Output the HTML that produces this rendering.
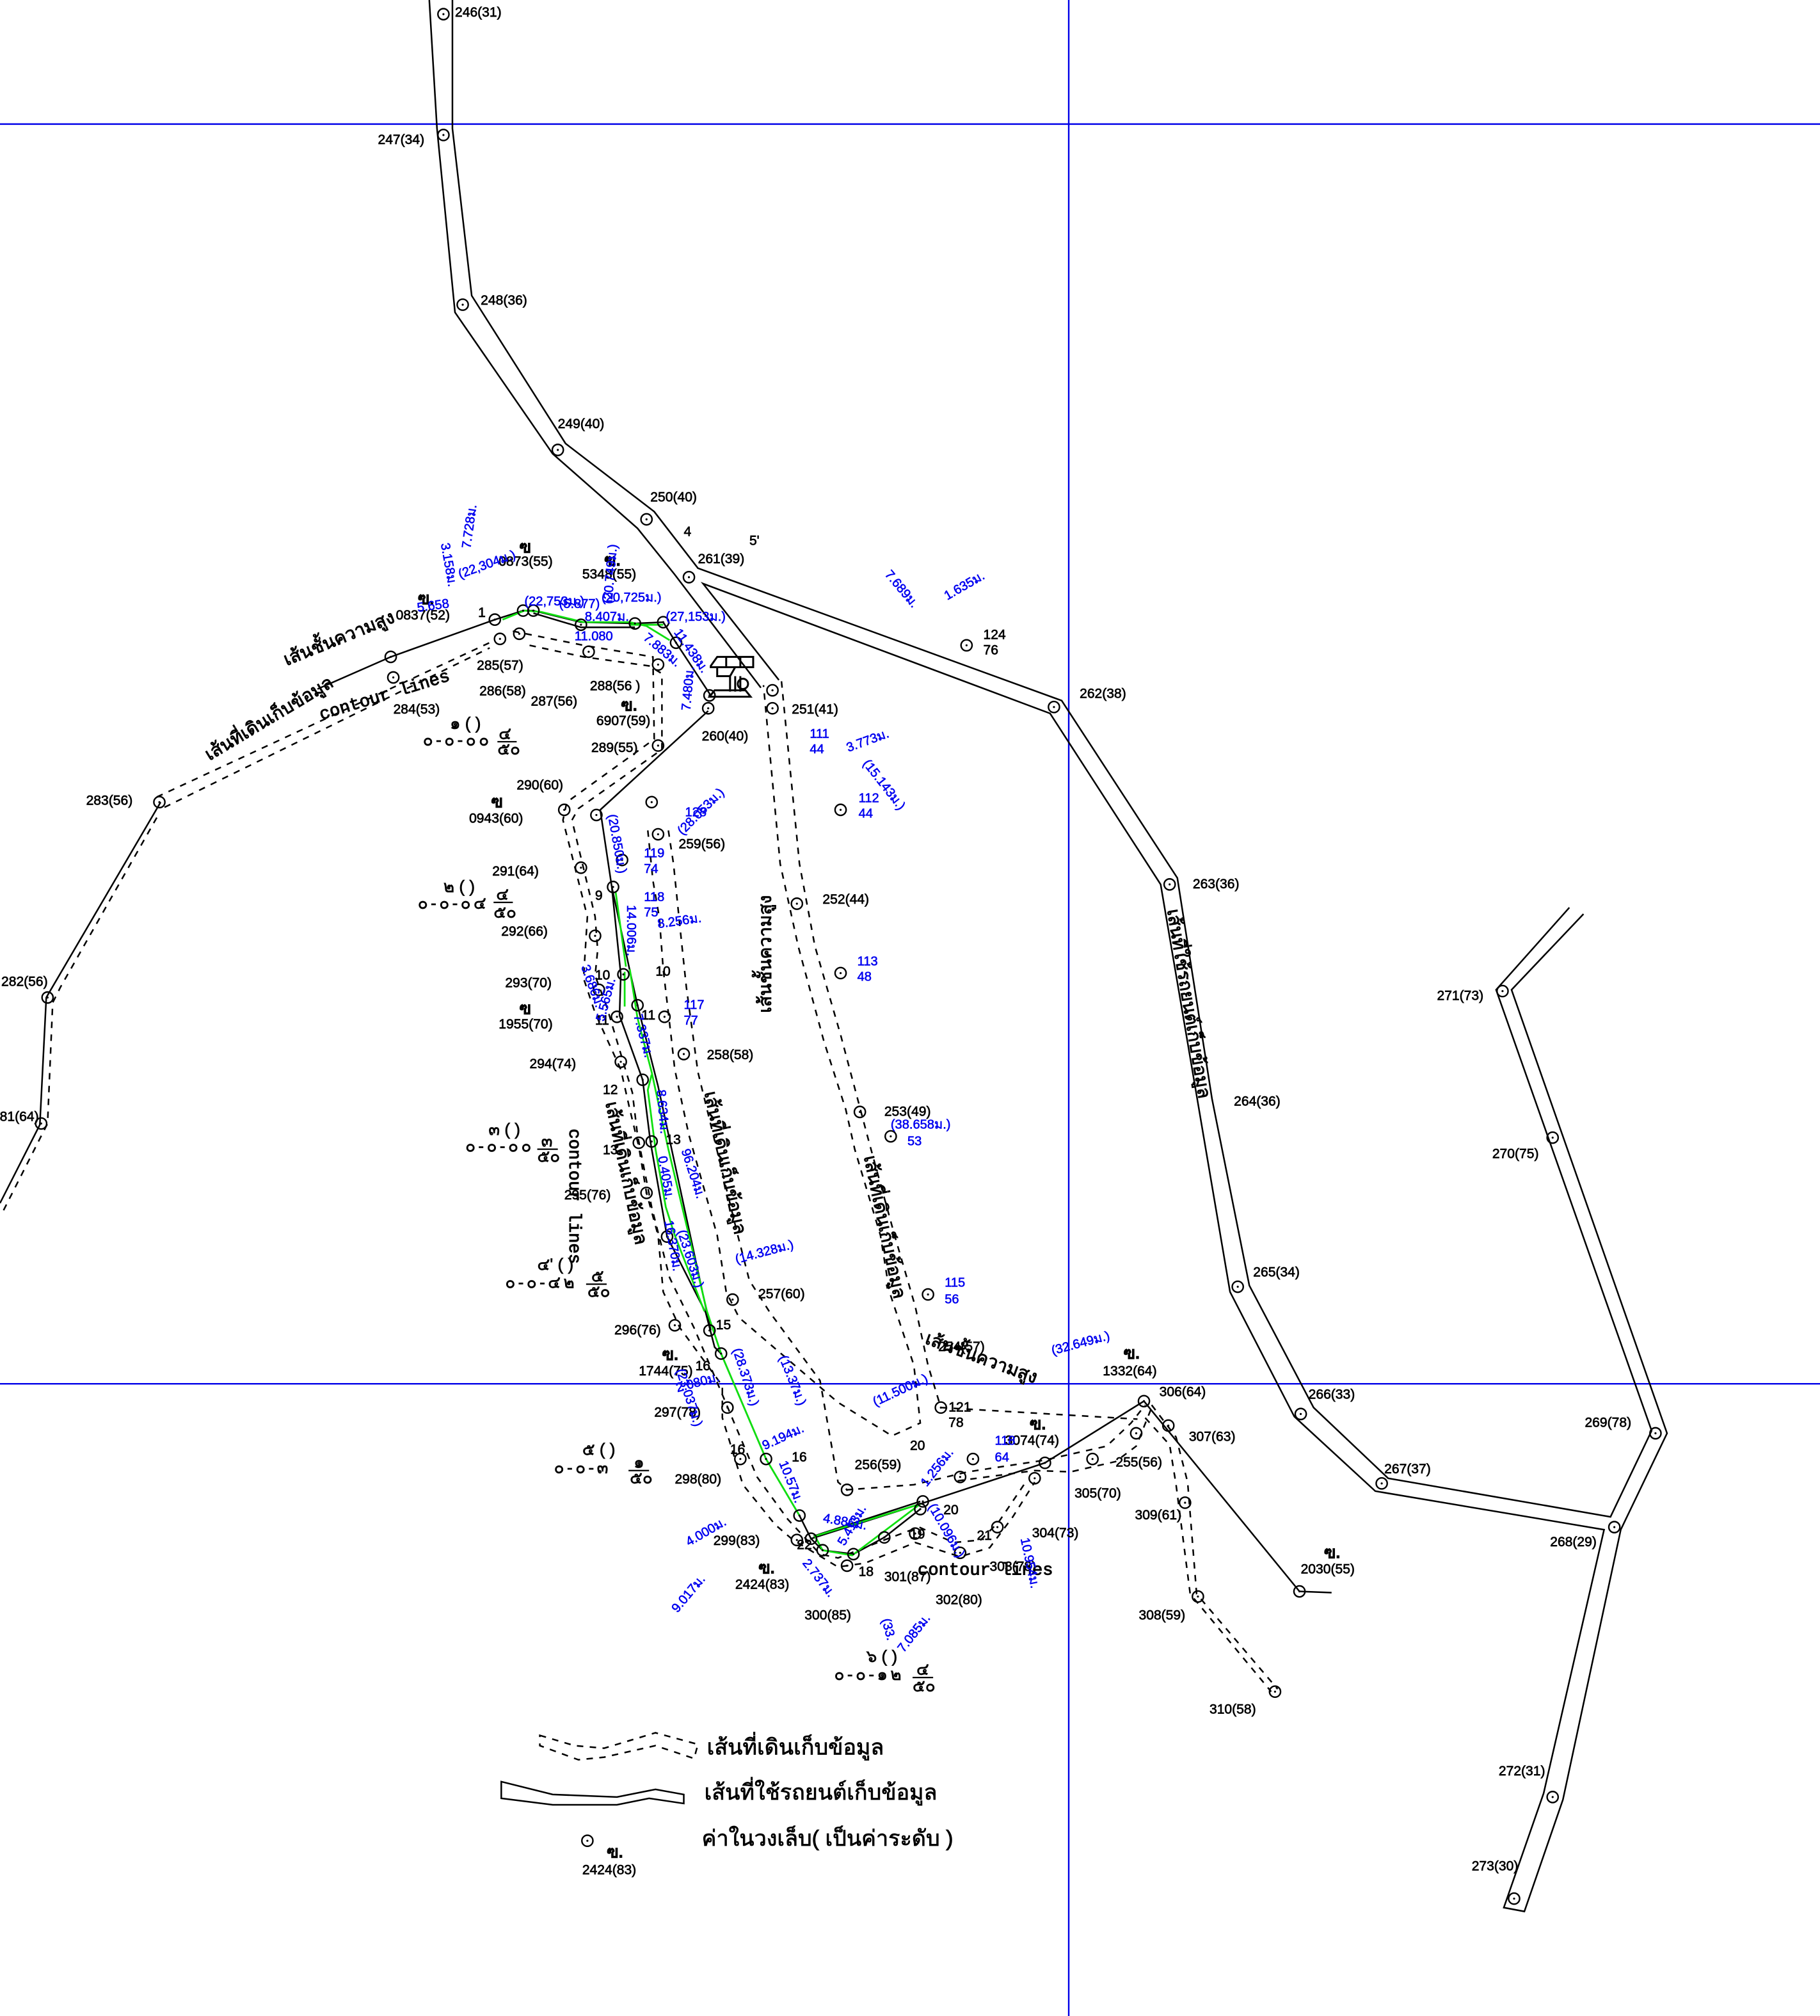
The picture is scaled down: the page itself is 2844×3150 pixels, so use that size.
<!DOCTYPE html>
<html lang="th"><head><meta charset="utf-8"><title>Map</title>
<style>
html,body{margin:0;padding:0;background:#fff}
svg{display:block}
text{font-family:"Liberation Sans","DejaVu Sans","Noto Sans CJK SC",sans-serif}
.k{fill:none;stroke:#000;stroke-width:1.25}
.d{fill:none;stroke:#000;stroke-width:1.25;stroke-dasharray:5 5}
.g{fill:none;stroke:#10e010;stroke-width:1.4}
.t{font-size:10.5px;fill:#000;stroke:#000;stroke-width:.35}
.b{font-size:10px;fill:#0000f0;stroke:#0000f0;stroke-width:.3}
.th{font-size:14px;fill:#000;stroke:#000;stroke-width:.5}
.c{font-size:13.5px;fill:#000;stroke:#000;stroke-width:.5}
.c text{font-family:"Liberation Mono",monospace}
.f{font-size:13px;fill:#000;stroke:#000;stroke-width:.35}
.w{letter-spacing:2.2px}
</style></head><body>
<svg xmlns="http://www.w3.org/2000/svg" width="2844" height="3150" viewBox="0 0 1416 1568.3">
<defs><g id="n"><circle r="4.3" fill="#fff" fill-opacity="0" stroke="#000" stroke-width="1.2"/><circle r=".8" fill="#000"/></g></defs>
<rect width="1416" height="1569" fill="#fff"/>
<g stroke="#0000e8" stroke-width="1.2"><line x1="0" y1="96.5" x2="1416" y2="96.5"/><line x1="0" y1="1076.5" x2="1416" y2="1076.5"/><line x1="831.5" y1="0" x2="831.5" y2="1569"/></g>

<!-- solid roads -->
<polyline class="k" points="334,0 340,100 354,243 430,353 496,411 525,447 592,535"/>
<polyline class="k" points="352,0 352,100 367,230 440,345 509,398 543,442 826,545 916,683 943,855 972,1000 1022,1095 1080,1150 1253,1180 1285,1113 1164,770 1221,706"/>
<polyline class="k" points="606,529 547,454 817,555 903,688 932,858 957,1005 1007,1102 1070,1160 1248,1190 1201,1395 1170,1484 1186,1487 1216,1400 1261,1190 1297,1115 1176,770 1232,711"/>
<polyline class="k" points="247,536 304,511 385,482 407,475 415,475 452,484 494,485 516,484 526,500 553,541"/>
<polyline class="k" points="415,477 452,488 494,488"/>
<polyline class="k" points="551,553 467,630 476,690 483,758 482,790 500,840 506,888 519,962 549,1021 556,1048 561,1053 596,1135 622,1179 631,1197 640,1206 664,1209 688,1196 716,1174"/>
<polyline class="k" points="476,690 490,755 496,782 512,845 537,961 553,1035"/>
<polyline class="k" points="631,1197 716,1170 813,1138 890,1090 1011,1238 1036,1239"/>
<polyline class="k" stroke-width="1.6" points="633,1195 716,1168"/>
<polyline class="k" points="125,624 36,776 31,875 0,936"/>

<!-- dashed double lines -->
<polyline class="d" points="122,620 383,499"/><polyline class="d" points="128,628 381,504"/>
<polyline class="d" stroke-dasharray="3 4" points="122,636 47,768 41,780 37,874 2,943"/>
<polyline class="d" points="399,491 454,502 508,511 509,575 441,624 438,638 457,713 454,761 463,788 483,832 490,863 497,892 503,928 512,961 516,1005 529,1033 562,1078 562,1103 578,1155 603,1186 617,1198 652,1219 673,1216 712,1200 747,1211 770,1204 788,1180 805,1153"/>
<polyline class="d" points="412,502 454,511 505,518 515,524 515,583 450,629 445,638 463,713 465,739 463,759 472,783 492,850 496,883 507,939 521,994 540,1033 562,1085 589,1149 613,1182 638,1209 652,1212 688,1198 715,1188 742,1200 763,1198 777,1184 798,1153"/>
<polyline class="d" points="504,646 508,685 513,714 516,754 522,805 525,832 536,883 558,961 565,1005 575,1025 652,1091 694,1117 716,1107 711,1062 692,1005 685,961 665,894 658,863 641,810 621,736 607,672 594,533"/>
<polyline class="d" points="520,646 524,672 529,721 534,768 543,834 574,961 583,996 599,1021 638,1074 652,1153 659,1159 711,1155 753,1145 812,1136 861,1125 880,1107 891,1093"/>
<polyline class="d" points="608,530 622,672 634,736 654,805 667,854 676,888 696,961 712,1016 722,1062 732,1095 885,1104"/>
<polyline class="d" points="745,1152 805,1144 833,1145 868,1137 884,1125 896,1095"/>
<polyline class="d" points="896,1093 915,1118 924,1153 931,1240 994,1314"/>
<polyline class="d" points="891,1103 910,1124 915,1155 926,1240 989,1316"/>

<!-- green -->
<polyline class="g" points="391,482 408,475 421,476 454,484 490,484 503,487 521,498"/>
<polyline class="g" points="490,486 516,486"/>
<polyline class="g" points="479,694 487,752"/>
<polyline class="g" points="486,756 486,783"/>
<polyline class="g" points="490,754 496,792 507,834 520,894 536,961 550,1020 561,1053 596,1135 622,1179"/>
<polyline class="g" points="507,836 504,848 510,894 518,939 525,961 548,1020"/>
<polygon class="g" points="716,1170 634,1195 640,1206 663,1210"/>

<!-- nodes -->
<g>
<use href="#n" x="345" y="11"/><use href="#n" x="345" y="105"/><use href="#n" x="360" y="237"/><use href="#n" x="434" y="350"/><use href="#n" x="503" y="404"/><use href="#n" x="536" y="449"/><use href="#n" x="601" y="537"/><use href="#n" x="601" y="551"/><use href="#n" x="820" y="550"/><use href="#n" x="752" y="502"/><use href="#n" x="910" y="688"/><use href="#n" x="963" y="1001"/><use href="#n" x="1012" y="1100"/><use href="#n" x="1075" y="1154"/><use href="#n" x="1256" y="1188"/><use href="#n" x="1288" y="1115"/><use href="#n" x="1208" y="885"/><use href="#n" x="1169" y="771"/><use href="#n" x="1208" y="1398"/><use href="#n" x="1178" y="1477"/>
<use href="#n" x="304" y="511"/><use href="#n" x="306" y="527"/><use href="#n" x="385" y="482"/><use href="#n" x="407" y="475"/><use href="#n" x="415" y="475"/><use href="#n" x="452" y="486"/><use href="#n" x="494" y="485"/><use href="#n" x="516" y="484"/><use href="#n" x="526" y="500"/><use href="#n" x="552" y="541"/><use href="#n" x="551" y="551"/><use href="#n" x="389" y="497"/><use href="#n" x="404" y="493"/><use href="#n" x="458" y="507"/><use href="#n" x="512" y="517"/><use href="#n" x="512" y="580"/><use href="#n" x="439" y="630"/><use href="#n" x="464" y="634"/><use href="#n" x="507" y="624"/><use href="#n" x="512" y="649"/><use href="#n" x="484" y="669"/><use href="#n" x="452" y="675"/><use href="#n" x="477" y="690"/><use href="#n" x="124" y="624"/><use href="#n" x="37" y="776"/><use href="#n" x="32" y="874"/>
<use href="#n" x="620" y="703"/><use href="#n" x="654" y="630"/><use href="#n" x="654" y="757"/><use href="#n" x="669" y="865"/><use href="#n" x="693" y="884"/><use href="#n" x="722" y="1007"/><use href="#n" x="532" y="820"/><use href="#n" x="517" y="791"/><use href="#n" x="463" y="728"/><use href="#n" x="483" y="826"/><use href="#n" x="497" y="889"/><use href="#n" x="507" y="888"/><use href="#n" x="503" y="928"/><use href="#n" x="525" y="1031"/><use href="#n" x="480" y="791"/><use href="#n" x="485" y="758"/><use href="#n" x="496" y="782"/><use href="#n" x="500" y="840"/><use href="#n" x="519" y="962"/><use href="#n" x="570" y="1011"/><use href="#n" x="466" y="770"/>
<use href="#n" x="552" y="1035"/><use href="#n" x="561" y="1053"/><use href="#n" x="596" y="1135"/><use href="#n" x="622" y="1179"/><use href="#n" x="631" y="1197"/><use href="#n" x="640" y="1206"/><use href="#n" x="664" y="1209"/><use href="#n" x="688" y="1196"/><use href="#n" x="716" y="1174"/><use href="#n" x="718" y="1168"/><use href="#n" x="805" y="1150"/><use href="#n" x="813" y="1138"/><use href="#n" x="890" y="1090"/><use href="#n" x="1011" y="1238"/><use href="#n" x="566" y="1095"/><use href="#n" x="576" y="1135"/><use href="#n" x="620" y="1198"/><use href="#n" x="659" y="1218"/><use href="#n" x="712" y="1193"/><use href="#n" x="747" y="1208"/><use href="#n" x="776" y="1188"/><use href="#n" x="850" y="1135"/><use href="#n" x="884" y="1115"/><use href="#n" x="909" y="1109"/><use href="#n" x="922" y="1169"/><use href="#n" x="932" y="1242"/><use href="#n" x="992" y="1316"/><use href="#n" x="747" y="1149"/><use href="#n" x="757" y="1135"/><use href="#n" x="659" y="1159"/><use href="#n" x="732" y="1095"/><use href="#n" x="457" y="1432"/>
</g>

<!-- tower icon -->
<g fill="none" stroke="#000" stroke-width="1.5">
<path d="M553,518 L558,511 H586 V519 H553 Z M558,519 V526 H568 L572,519 M565,511 V519 M576,511 V519"/>
<path d="M568,526 V538 M572,526 V538 M576,526 V538 M552,542 H584 L580,537 H556 Z"/>
<circle cx="578" cy="532" r="4"/>
</g>

<!-- black labels -->
<g class="t">
<text x="354" y="13">246(31)</text><text x="294" y="112">247(34)</text><text x="374" y="237">248(36)</text><text x="434" y="333">249(40)</text><text x="506" y="390">250(40)</text><text x="532" y="417">4</text><text x="583" y="424">5'</text><text x="543" y="438">261(39)</text><text x="616" y="555">251(41)</text><text x="840" y="543">262(38)</text><text x="928" y="691">263(36)</text><text x="960" y="860">264(36)</text><text x="975" y="993">265(34)</text><text x="1018" y="1088">266(33)</text><text x="1077" y="1146">267(37)</text><text x="1206" y="1203">268(29)</text><text x="1233" y="1110">269(78)</text><text x="1161" y="901">270(75)</text><text x="1118" y="778">271(73)</text><text x="1166" y="1381">272(31)</text><text x="1145" y="1455">273(30)</text>
<text x="67" y="626">283(56)</text><text x="1" y="767">282(56)</text><text x="-6" y="872">281(64)</text>
<text x="765" y="497">124</text><text x="765" y="509">76</text>
<text x="388" y="440">0873(55)</text><text x="453" y="450">5348(55)</text><text x="308" y="482">0837(52)</text><text x="371" y="521">285(57)</text><text x="373" y="541">286(58)</text><text x="413" y="549">287(56)</text><text x="459" y="537">288(56 )</text><text x="464" y="564">6907(59)</text><text x="306" y="555">284(53)</text><text x="460" y="585">289(55)</text><text x="546" y="576">260(40)</text><text x="402" y="614">290(60)</text><text x="365" y="640">0943(60)</text><text x="528" y="660">259(56)</text><text x="383" y="681">291(64)</text><text x="390" y="728">292(66)</text><text x="393" y="768">293(70)</text><text x="388" y="800">1955(70)</text><text x="412" y="831">294(74)</text><text x="439" y="933">295(76)</text><text x="478" y="1038">296(76)</text><text x="497" y="1070">1744(75)</text><text x="509" y="1102">297(78)</text><text x="525" y="1154">298(80)</text><text x="555" y="1202">299(83)</text><text x="572" y="1236">2424(83)</text><text x="626" y="1260">300(85)</text><text x="688" y="1230">301(87)</text><text x="728" y="1248">302(80)</text><text x="770" y="1222">303(78)</text><text x="803" y="1196">304(73)</text><text x="836" y="1165">305(70)</text><text x="868" y="1141">255(56)</text><text x="782" y="1124">3074(74)</text><text x="902" y="1086">306(64)</text><text x="925" y="1121">307(63)</text><text x="883" y="1182">309(61)</text><text x="886" y="1260">308(59)</text><text x="941" y="1333">310(58)</text><text x="858" y="1070">1332(64)</text><text x="1012" y="1224">2030(55)</text><text x="665" y="1143">256(59)</text><text x="708" y="1128">20</text><text x="590" y="1010">257(60)</text><text x="550" y="824">258(58)</text><text x="640" y="703">252(44)</text><text x="688" y="868">253(49)</text><text x="730" y="1051">254(57)</text><text x="738" y="1098">121</text><text x="738" y="1110">78</text>
<text x="372" y="480">1</text><text x="463" y="700">9</text><text x="463" y="762">10</text><text x="510" y="759">10</text><text x="463" y="797">11</text><text x="499" y="793">11</text><text x="469" y="851">12</text><text x="469" y="898">13</text><text x="518" y="890">13</text><text x="557" y="1034">15</text><text x="541" y="1066">16</text><text x="616" y="1137">16</text><text x="568" y="1131">16</text><text x="668" y="1226">18</text><text x="734" y="1178">20</text><text x="760" y="1198">21</text><text x="620" y="1205">22</text><text x="708" y="1197">19</text>
<text x="453" y="1458">2424(83)</text>
</g>
<g class="f" font-weight="bold">
<text x="404" y="430">ฃ</text><text x="470" y="440">ฃ.</text><text x="325" y="470">ฃ.</text><text x="483" y="553">ฃ.</text><text x="382" y="628">ฃ</text><text x="404" y="789">ฃ</text><text x="515" y="1058">ฃ.</text><text x="590" y="1224">ฃ.</text><text x="801" y="1112">ฃ.</text><text x="874" y="1057">ฃ.</text><text x="1030" y="1212">ฃ.</text><text x="472" y="1445">ฃ.</text>
</g>

<!-- plot labels -->
<g class="f">
<text x="350" y="567">๑ ( )</text><text class="w" x="329" y="580">๐-๐-๐๐</text><text x="388" y="575">๔</text><text x="387" y="587">๕๐</text>
<text x="345" y="694">๒ ( )</text><text class="w" x="325" y="707">๐-๐-๐๔</text><text x="386" y="700">๔</text><text x="384" y="714">๕๐</text>
<text x="380" y="883">๓ ( )</text><text class="w" x="362" y="896">๐-๐-๐๐</text><text x="421" y="892">๓</text><text x="418" y="904">๕๐</text>
<text x="418" y="988">๔' ( )</text><text class="w" x="393" y="1002">๐-๐-๔๒</text><text x="460" y="997">๕</text><text x="457" y="1009">๕๐</text>
<text x="453" y="1132">๕ ( )</text><text class="w" x="431" y="1146">๐-๐-๓</text><text x="493" y="1142">๑</text><text x="490" y="1154">๕๐</text>
<text x="674" y="1293">๖ ( )</text><text class="w" x="649" y="1307">๐-๐-๑๒</text><text x="713" y="1303">๔</text><text x="710" y="1316">๕๐</text>
</g>
<g stroke="#000" stroke-width="1.1">
<line x1="387" y1="577" x2="402" y2="577"/><line x1="384" y1="702" x2="399" y2="702"/><line x1="418" y1="894" x2="434" y2="894"/><line x1="456" y1="999" x2="472" y2="999"/><line x1="489" y1="1144" x2="505" y2="1144"/><line x1="710" y1="1305" x2="726" y2="1305"/>
</g>

<!-- rotated captions -->
<g class="th">
<text transform="translate(223,518) rotate(-22)">เส้นชั้นความสูง</text>
<text transform="translate(163,592) rotate(-31)">เส้นที่เดินเก็บข้อมูล</text>
<text transform="translate(600,788) rotate(-90)">เส้นชั้นความสูง</text>
<text transform="translate(908,708) rotate(80.5)">เส้นที่ใช้รถยนต์เก็บข้อมูล</text>
<text transform="translate(548,850) rotate(78)">เส้นที่เดินเก็บข้อมูล</text>
<text transform="translate(471,858) rotate(78)">เส้นที่เดินเก็บข้อมูล</text>
<text transform="translate(672,900) rotate(78)">เส้นที่เดินเก็บข้อมูล</text>
<text transform="translate(719,1045) rotate(20)">เส้นชั้นความสูง</text>
</g>
<g class="c">
<text transform="translate(250,560) rotate(-17)">contour lines</text>
<text transform="translate(443,878) rotate(90)">contour lines</text>
<text x="714" y="1225">contour lines</text>
</g>

<!-- blue labels -->
<g class="b">
<text transform="translate(343,423) rotate(80)">3.158ม.</text>
<text transform="translate(366,427) rotate(-82)">7.728ม.</text>
<text transform="translate(358,450) rotate(-20)">(22,304ม.)</text>
<text transform="translate(325,476) rotate(-8)">5.658</text>
<text x="408" y="471">(22,753ม.)</text><text x="435" y="473">(5.877)</text><text x="468" y="468">(20,725ม.)</text><text x="455" y="483">8.407ม.</text>
<text transform="translate(476,470) rotate(-85)">(20.749ม.)</text>
<text x="447" y="498">11.080</text><text x="518" y="483">(27,153ม.)</text>
<text transform="translate(500,497) rotate(40)">7.883ม.</text>
<text transform="translate(524,492) rotate(55)">11.438ม.</text>
<text transform="translate(537,553) rotate(-85)">7.480ม.</text>
<text transform="translate(531,650) rotate(-45)">(28.053ม.)</text>
<text x="533" y="635">128</text>
<text transform="translate(473,634) rotate(80)">(20.850ม.)</text>
<text transform="translate(488,704) rotate(90)">14.006ม.</text>
<text transform="translate(512,722) rotate(-8)">8.256ม.</text>
<text x="630" y="574">111</text><text x="630" y="586">44</text><text x="668" y="624">112</text><text x="668" y="636">44</text>
<text transform="translate(671,594) rotate(52)">(15.143ม.)</text>
<text transform="translate(660,585) rotate(-20)">3.773ม.</text>
<text x="667" y="751">113</text><text x="667" y="763">48</text><text x="735" y="1001">115</text><text x="735" y="1014">56</text>
<text x="501" y="667">119</text><text x="501" y="679">74</text><text x="501" y="701">118</text><text x="501" y="713">75</text><text x="532" y="785">117</text><text x="532" y="797">77</text>
<text x="693" y="878">(38.658ม.)</text><text x="706" y="891">53</text>
<text transform="translate(688,447) rotate(50)">7.689ม.</text>
<text transform="translate(737,467) rotate(-30)">1.635ม.</text>
<text transform="translate(573,983) rotate(-15)">(14.328ม.)</text>
<text transform="translate(819,1054) rotate(-15)">(32.649ม.)</text>
<text transform="translate(681,1094) rotate(-25)">(11.500ม.)</text>
<text transform="translate(606,1056) rotate(68)">(13.37ม.)</text>
<text transform="translate(570,1050) rotate(72)">(28.373ม.)</text>
<text transform="translate(526,1066) rotate(72)">(23.037ม.)</text>
<text transform="translate(452,752) rotate(70)">3.686ม.</text>
<text transform="translate(470,795) rotate(-75)">5.565ม.</text>
<text transform="translate(493,790) rotate(75)">7.337ม.</text>
<text transform="translate(511,848) rotate(85)">8.634ม.</text>
<text transform="translate(512,900) rotate(80)">0.405ม.</text>
<text transform="translate(530,895) rotate(72)">96.204ม.</text>
<text transform="translate(517,950) rotate(80)">16.370ม.</text>
<text transform="translate(527,958) rotate(72)">(23.603ม.)</text>
<text transform="translate(640,1184) rotate(10)">4.886ม.</text>
<text transform="translate(657,1203) rotate(-60)">5.413ม.</text>
<text transform="translate(595,1128) rotate(-25)">9.194ม.</text>
<text transform="translate(606,1138) rotate(68)">10.57ม.</text>
<text transform="translate(536,1203) rotate(-30)">4.000ม.</text>
<text transform="translate(624,1216) rotate(52)">2.737ม.</text>
<text transform="translate(527,1255) rotate(-50)">9.017ม.</text>
<text transform="translate(721,1157) rotate(-52)">1.256ม.</text>
<text x="774" y="1124">118</text><text x="774" y="1137">64</text>
<text transform="translate(794,1197) rotate(78)">10.954ม.</text>
<text transform="translate(686,1260) rotate(75)">(33.</text>
<text transform="translate(703,1286) rotate(-52)">7.085ม.</text>
<text transform="translate(722,1172) rotate(60)">(10.096ม.)</text>
<text transform="translate(527,1083) rotate(-15)">2.080ม.</text>
</g>

<!-- legend -->
<polygon class="d" stroke-dasharray="4 4" points="420,1350 447,1358 470,1360 510,1348 543,1357 540,1368 510,1358 470,1367 450,1369 420,1358"/>
<polygon class="k" points="390,1386 430,1396 480,1398 510,1392 532,1396 532,1403 505,1399 480,1404 430,1404 390,1399"/>
<g font-size="17" fill="#000" stroke="#000" stroke-width=".4">
<text x="550" y="1365">เส้นที่เดินเก็บข้อมูล</text>
<text x="548" y="1400">เส้นที่ใช้รถยนต์เก็บข้อมูล</text>
<text x="546" y="1436">ค่าในวงเล็บ( เป็นค่าระดับ )</text>
</g>
</svg>
</body></html>
